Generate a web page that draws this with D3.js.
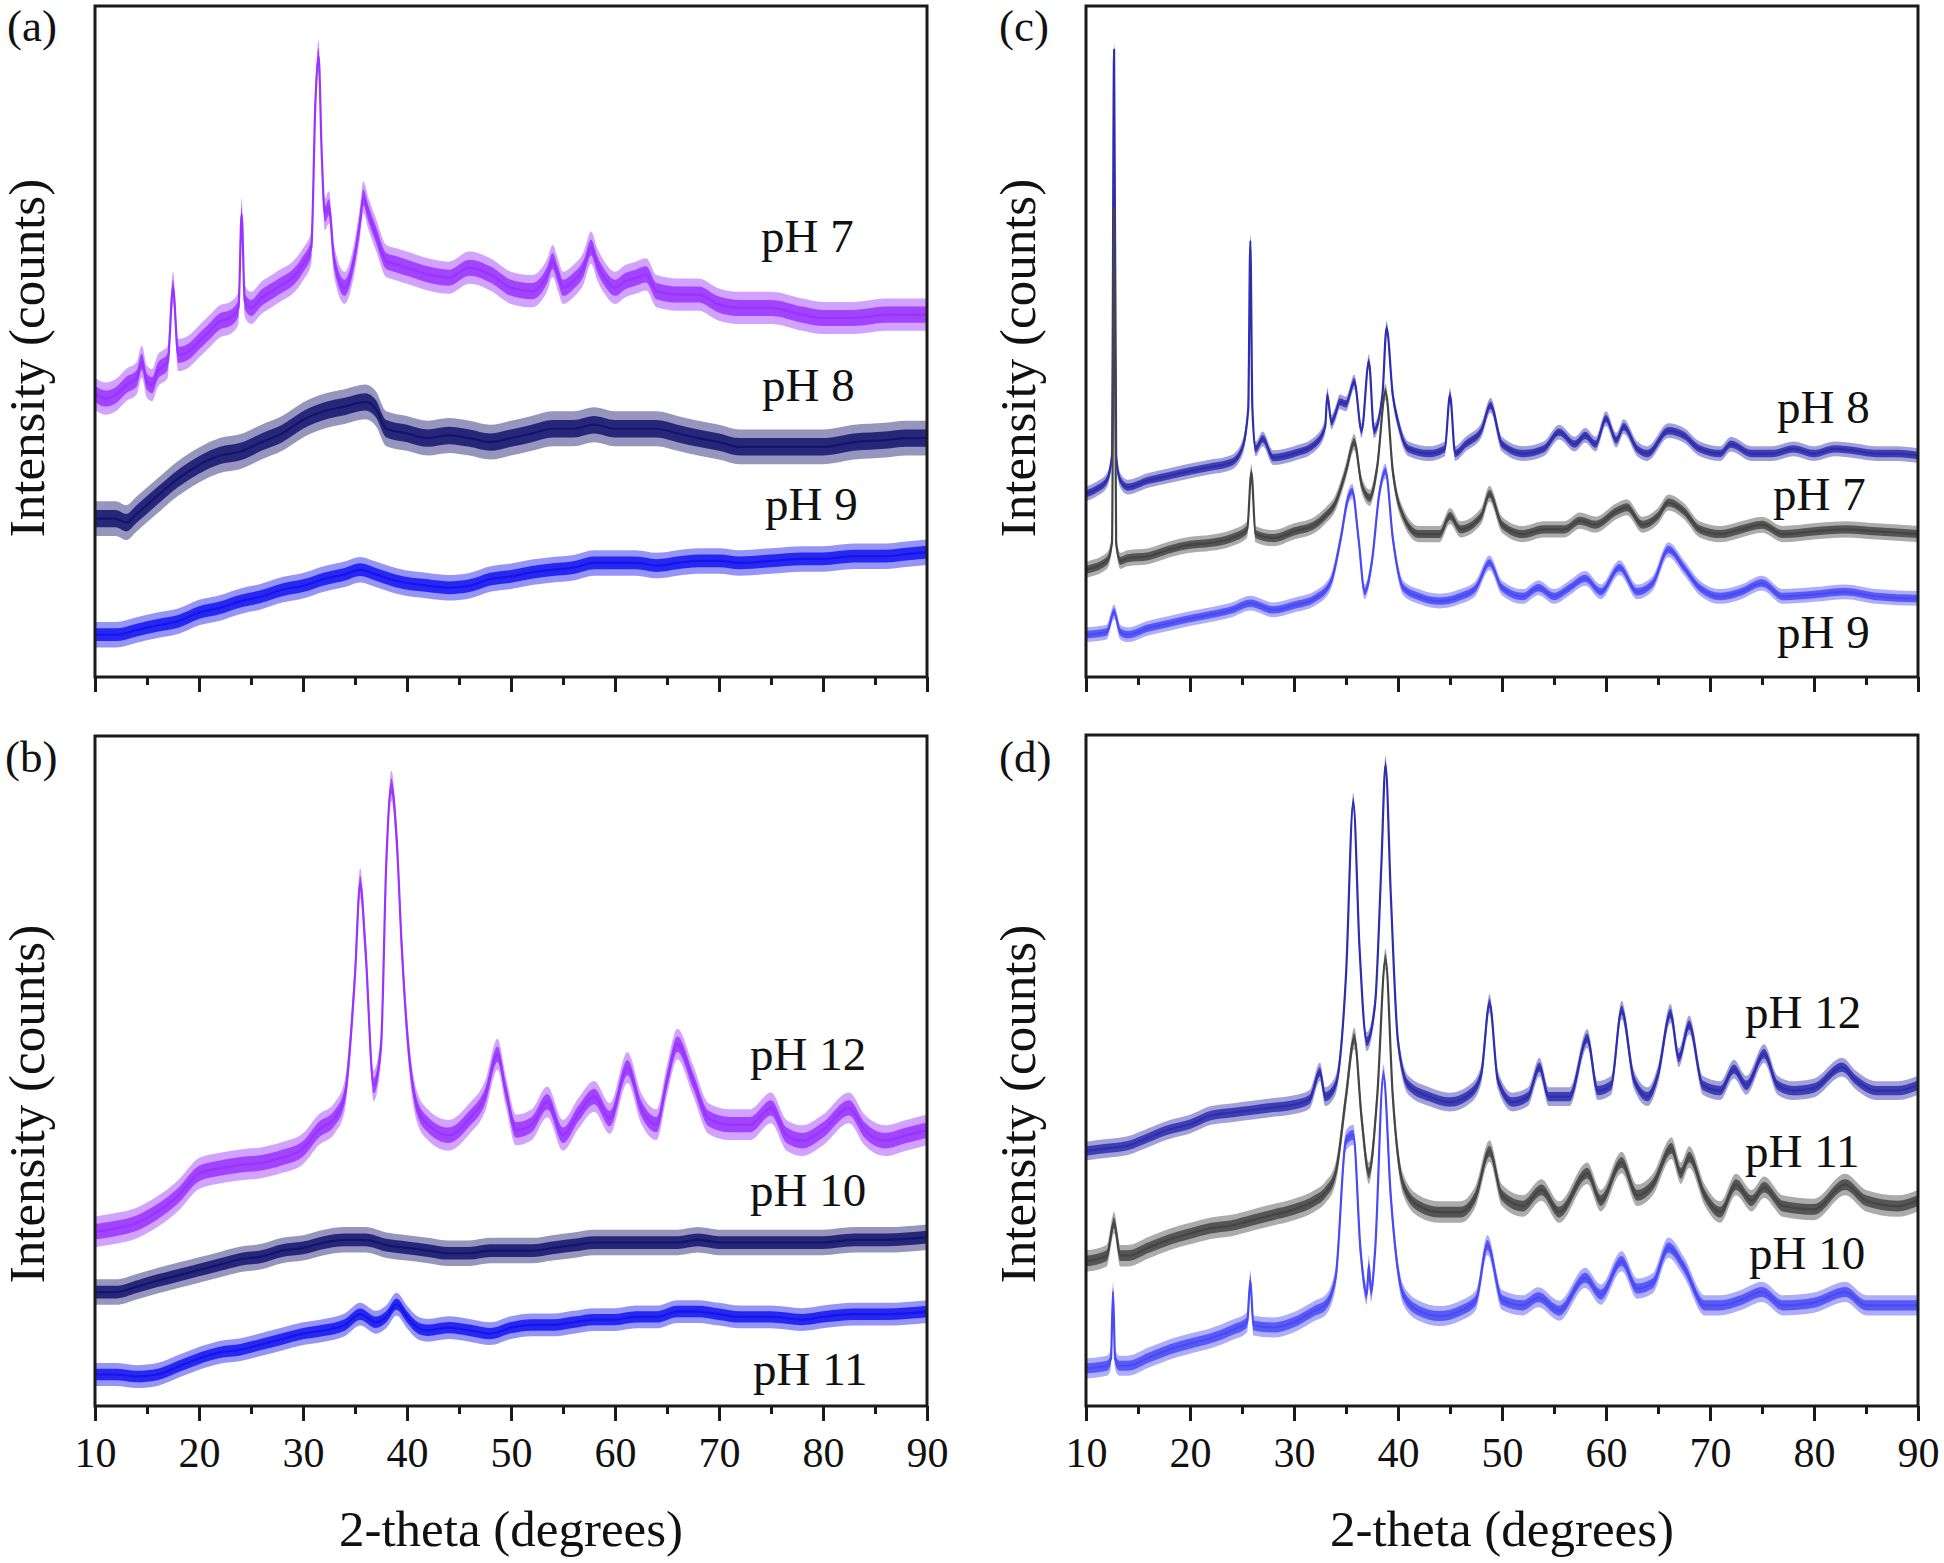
<!DOCTYPE html>
<html><head><meta charset="utf-8">
<script src="https://cdn.jsdelivr.net/npm/d3@7"></script>
<style>body{margin:0;background:#fff}</style>
</head><body>
<svg id="chart" width="1944" height="1563"></svg>
<script>
// ---------- tick labels / text ----------
const xMajorTicks = [10,20,30,40,50,60,70,80,90];
const xMinorTicks = [15,25,35,45,55,65,75,85];
const panelLetters = ["(a)","(b)","(c)","(d)"];
const xTitle = "2-theta (degrees)";
const yTitle = "Intensity (counts)";

// ---------- series names ----------
const namesA = ["pH 7","pH 8","pH 9"];
const namesB = ["pH 12","pH 10","pH 11"];
const namesC = ["pH 8","pH 7","pH 9"];
const namesD = ["pH 12","pH 11","pH 10"];

// ---------- series values: [2-theta, intensity (a.u., 0-100 of frame)] ----------
const a_pH7 = [[10,42.2],[11,41.5],[12,42],[13,43.5],[14,44.5],[14.5,47],[15,44],[15.5,43.5],[16,45.5],[17,47],[17.5,58],[18,48],[19,48.5],[20,50],[21,51.5],[22,53],[23,53.5],[23.8,55],[24.1,69],[24.4,56],[25,55],[26,56.5],[27,57.5],[28,58.5],[29,59.5],[30,61.5],[30.8,64],[31.2,86],[31.5,92.5],[31.8,78],[32.1,69],[32.5,70],[33,62],[34,58],[35,63],[35.5,68],[35.8,71.5],[36.3,69],[37,66],[38,62],[39,61.5],[40,61],[42,60],[44,59.5],[46,61],[48,60],[50,58],[52,57.5],[53.5,60],[54,62],[54.5,60],[55,58],[56,59],[57,61],[57.7,64],[58.3,61.5],[59,59.5],[60,58],[61,59],[62,59.5],[63,60],[64,57.5],[66,57],[68,57],[70,55.5],[72,55],[75,55],[78,54],[80,53.5],[83,53.5],[86,54],[88,54],[90,54]];
const a_pH8 = [[10,23.6],[12,23.6],[13,23],[14,24.3],[16,27],[18,29.6],[20,31.6],[22,33],[24,33.6],[26,35],[28,36.3],[30,38.3],[32,39.6],[34,40.3],[36,41],[37,40],[38,37],[40,36.3],[42,35.6],[44,36],[46,35.6],[48,35],[50,35.6],[52,36.3],[54,37],[56,37],[58,37.6],[60,37],[62,37],[64,37],[66,36.3],[68,35.6],[70,35],[72,34.3],[75,34.3],[78,34.3],[80,34.3],[83,35],[86,35.3],[88,35.6],[90,35.6]];
const a_pH9 = [[10,6.3],[12,6.3],[14,7],[16,7.7],[18,8.3],[20,9.6],[22,10.3],[24,11.3],[26,12],[28,13],[30,13.6],[32,14.6],[34,15.3],[35.5,16],[37,15.3],[39,14.3],[42,13.6],[44,13.3],[46,13.6],[48,14.6],[50,15],[52,15.6],[54,16],[56,16.3],[58,17],[60,17],[62,17],[64,16.6],[66,17],[68,17.3],[70,17.3],[72,17],[75,17.3],[78,17.6],[80,17.6],[83,18],[86,18],[88,18.3],[90,18.6]];

const b_pH12 = [[10,26],[12,26.5],[14,27.3],[16,29],[18,31.4],[20,34.7],[22,35.5],[24,36],[26,36.3],[28,37.1],[30,38.4],[31.5,41.2],[33,42.9],[34,46.2],[35,64.3],[35.5,78],[36,68.4],[36.8,47.8],[37.5,53.6],[38,80.7],[38.5,92.5],[39,84.8],[39.5,68.4],[40,56],[41,44.5],[42,42],[44,40.4],[46,42.9],[47.5,46.2],[48.7,52.5],[49.5,47],[50.5,41.2],[52,42],[53.5,45.4],[55,40.4],[56.5,43.7],[58,46.2],[59.5,42.9],[61.2,50.5],[62.5,44.5],[64,42],[65,48.6],[66,54],[67.5,48.6],[69,42.9],[71,42],[73,42],[75,44.5],[76.5,40.4],[78,39.6],[80,41.2],[82.5,44.5],[84,41.2],[86,39.6],[88,40.4],[90,41.2]];
const b_pH10 = [[10,17],[12,17],[14,17.8],[16,18.7],[18,19.5],[20,20.3],[22,21.1],[24,21.9],[26,22.3],[28,23.2],[30,23.6],[32,24.4],[34,24.8],[36,24.8],[38,24],[40,23.6],[42,23.2],[44,22.8],[46,22.8],[48,23.2],[50,23.2],[52,23.2],[54,23.6],[56,24],[58,24.4],[60,24.4],[62,24.4],[64,24.4],[66,24.4],[68,24.8],[70,24.4],[72,24.4],[75,24.4],[78,24.4],[80,24.4],[83,24.8],[86,24.8],[90,25.2]];
const b_pH11 = [[10,4.7],[12,4.7],[14,4.4],[16,4.7],[18,5.9],[20,7.1],[22,8],[24,8.4],[26,9.2],[28,10],[30,10.8],[32,11.3],[34,12.1],[35.5,13.7],[37,12.5],[38,13.3],[39,15.2],[40,13.3],[41,11.7],[42,11.3],[44,11.7],[46,11.3],[48,10.8],[50,11.7],[52,12.1],[54,12.1],[56,12.5],[58,12.9],[60,12.9],[62,13.3],[64,13.3],[66,14.1],[68,14.1],[70,13.7],[72,13.3],[75,13.3],[78,12.9],[80,13.3],[83,13.7],[86,13.7],[90,14.1]];

const c_pH8 = [[10,27.3],[11,28],[12,29.3],[12.5,33],[12.7,93.5],[12.9,33],[13.3,29.3],[14,28.3],[16,29.3],[18,30],[20,30.7],[22,31.3],[24,32],[25,34],[25.6,40],[25.8,65],[26,40],[26.3,34],[27,35.5],[28,32.7],[30,33.3],[32,34.7],[33,37.3],[33.2,42],[33.6,38],[34,39.3],[34.4,41],[35,40.7],[35.8,44],[36.5,36.7],[37.2,47],[37.7,36.7],[38.5,42],[38.9,52],[39.5,42],[40,38],[41,34],[43,33.3],[44.5,34],[45,42],[45.5,33.3],[46.5,34.7],[48,36.7],[48.9,40.5],[50,34.7],[52,33.3],[54,34],[55.5,36.5],[57,34.7],[58,36],[59,34.7],[60,38.5],[61,35.3],[61.7,37.3],[63,34],[64,33.3],[66,36.7],[67.5,36],[69,34],[71,33.3],[72,34.7],[74,33.3],[76,33.3],[78,34],[80,33.3],[82,34],[84,33.7],[86,33.3],[88,33.3],[90,33]];
const c_pH7 = [[10,16],[12,17.3],[12.5,20],[12.7,70],[12.9,20],[13.3,17.3],[14,17.7],[16,18],[18,19],[20,19.7],[22,20],[24,20.7],[25.5,22],[25.9,30.5],[26.3,21.3],[28,20.7],[30,21.7],[32,22.7],[33,24],[34,26],[35,30.7],[35.8,35],[36.5,28.7],[37.3,26.7],[38,31.3],[38.8,42.5],[39.5,30.7],[40.5,24],[42,21.3],[44,21.3],[45,24],[46,22],[48,24],[48.8,27.3],[50,22.7],[52,21.3],[54,22],[56,22],[57.5,23.3],[59,22.7],[61,24.7],[62,25.3],[63.5,22.7],[65,24],[66,26],[67.5,24.7],[69,22],[71,21.3],[73,22],[75,22.7],[77,21.3],[80,21.7],[83,22],[86,21.7],[90,21.3]];
const c_pH9 = [[10,6.3],[12,6.7],[12.7,9.7],[13.3,6.7],[14,6.3],[16,7.3],[18,8],[20,8.7],[22,9.3],[24,10],[25.8,11],[28,10],[30,10.7],[32,11.7],[33.5,14],[34.5,20.7],[35.2,26.7],[35.6,27.7],[36.2,20.7],[36.8,12.7],[37.5,17.3],[38.2,27.3],[38.8,30.7],[39.5,20.7],[40.5,13.3],[42,12],[44,11.3],[46,12],[47.5,13.3],[48.8,17],[50,13.3],[52,12],[53.5,13.3],[55,12],[56.5,13.3],[58,14.7],[59.5,12.7],[61.3,16.3],[63,12.7],[64.5,14],[66,19],[67.5,16.3],[69,13.3],[71,12],[73,12.7],[75,14],[77,12],[80,12.3],[83,12.7],[86,12],[90,11.7]];

const d_pH12 = [[10,38],[12,38.4],[14,38.8],[16,40],[18,41.2],[20,42],[22,43.3],[24,43.7],[26,44.1],[28,44.5],[30,44.9],[31.5,45.7],[32.5,49.8],[33,46.1],[34,47.8],[35,64.2],[35.7,90],[36.3,68.3],[37,54.3],[37.8,60],[38.4,80.6],[38.8,95.5],[39.3,76.5],[40,54.3],[41,47.8],[43,46.1],[45,45.3],[47,46.6],[48,49.4],[48.8,60],[49.6,48.6],[51,45.3],[52.5,46.1],[53.6,50.5],[54.5,46.1],[56.5,46.1],[58.2,54.8],[59.2,47],[60.5,47.8],[61.5,59],[62.7,48.6],[64,46.1],[65,49.4],[66.2,58.5],[67,51.9],[68,56.8],[69.3,47.8],[71,47],[72.3,50.2],[73.5,47.8],[75.2,52.5],[76.5,47.8],[78,47],[80,47.4],[82.7,50.5],[84,48.6],[86,47],[88,47],[90,47.8]];
const d_pH11 = [[10,21.6],[12,22.4],[12.7,27.3],[13.3,22.4],[14,22.4],[16,23.6],[18,24.8],[20,25.7],[22,26.5],[24,26.9],[26,27.7],[28,28.5],[30,29.3],[32,30.6],[33,31.8],[34,34.7],[35,46.1],[35.8,54.8],[36.5,42.9],[37.2,34.7],[38,46.1],[38.8,66.6],[39.5,46.1],[40.5,33],[42,29.8],[44,28.9],[46,28.9],[47.5,31.4],[48.8,38],[50,31.4],[52,29.8],[53.8,32.2],[55.5,28.9],[58.2,34.7],[59.5,30.6],[61.5,36.3],[63,31.4],[64.5,33],[66.3,38.4],[67.2,34.7],[68,37.1],[69.5,31.4],[71,28.9],[72.5,33],[74,30.6],[75.2,32.6],[77,29.8],[80,29.3],[83,33],[85,30.6],[88,29.8],[90,30.6]];
const d_pH10 = [[10,5.6],[12,6],[12.4,7],[12.6,17],[12.8,7],[13.2,6],[14,6],[16,7.2],[18,8.4],[20,9.3],[22,10.1],[24,11.3],[25.5,12.5],[25.8,18.7],[26.1,12],[28,11.7],[30,12.5],[32,14.2],[33,15],[34,19.1],[35,39.6],[35.7,40.4],[36.4,23.2],[37,16.6],[37.2,21],[37.4,17],[37.8,23.2],[38.6,49.4],[39.3,31.4],[40.5,16.6],[42,14.2],[44,13.4],[46,14.2],[47.5,15.8],[48.6,24],[50,15.8],[52,15],[53.5,16.2],[55.5,14.2],[58,19.1],[59.5,16.6],[61.5,21.6],[63,17.5],[64.5,18.3],[66,23.6],[67.5,20.7],[69.5,15],[71,15],[73,15.8],[75,17],[77,15],[80,15.4],[83,17],[85,15],[88,15],[90,15]];

// ---------- series colours / noise half-width (a.u.) ----------
const colorsA = ["#9933ff","#14146e","#1414f0"];
const colorsB = ["#9933ff","#14146e","#1414f0"];
const colorsC = ["#2e2eae","#454545","#4a4af5"];
const colorsD = ["#2e2eae","#454545","#4a4af5"];
const noiseA = [2.4,2.6,1.9];
const noiseB = [2.3,1.9,1.7];
const noiseC = [1.1,1.2,1.1];
const noiseD = [1.4,1.6,1.5];

// ---------- layout ----------
const FONT = "'Liberation Serif','Times New Roman',serif";
const svg = d3.select("#chart");
svg.append("rect").attr("width",1944).attr("height",1563).attr("fill","#fff");

const panels = [
  {letter:panelLetters[0], x0:95,  x1:927,  y0:6,   y1:677,  labels:false, names:namesA, series:[a_pH7,a_pH8,a_pH9], colors:colorsA, noise:noiseA,
   labelPos:[[761,252],[762,401],[765,520]], letterPos:[7,41], yTitleY:358},
  {letter:panelLetters[1], x0:95,  x1:927,  y0:736, y1:1406, labels:true, names:namesB, series:[b_pH12,b_pH10,b_pH11], colors:colorsB, noise:noiseB,
   labelPos:[[750,1070],[750,1206],[753,1385]], letterPos:[5,772], yTitleY:1104},
  {letter:panelLetters[2], x0:1086, x1:1918, y0:6,   y1:677,  labels:false, names:namesC, series:[c_pH8,c_pH7,c_pH9], colors:colorsC, noise:noiseC,
   labelPos:[[1777,423],[1773,510],[1777,648]], letterPos:[999,41], yTitleY:358},
  {letter:panelLetters[3], x0:1086, x1:1918, y0:735, y1:1406, labels:true, names:namesD, series:[d_pH12,d_pH11,d_pH10], colors:colorsD, noise:noiseD,
   labelPos:[[1745,1028],[1745,1167],[1749,1269]], letterPos:[999,772], yTitleY:1104}
];

panels.forEach(p => {
  const x = d3.scaleLinear().domain([10,90]).range([p.x0,p.x1]);
  const y = d3.scaleLinear().domain([0,100]).range([p.y1,p.y0]);
  const g = svg.append("g");

  // traces: fuzzy outer band, dense inner band, thin centre line
  p.series.forEach((data,i) => {
    const n = p.noise[i];
    const outer = d3.area().x(d=>x(d[0])).y0(d=>y(d[1]-n)).y1(d=>y(d[1]+n)).curve(d3.curveMonotoneX);
    const inner = d3.area().x(d=>x(d[0])).y0(d=>y(d[1]-n*0.5)).y1(d=>y(d[1]+n*0.5)).curve(d3.curveMonotoneX);
    const line = d3.line().x(d=>x(d[0])).y(d=>y(d[1])).curve(d3.curveMonotoneX);
    g.append("path").attr("d",outer(data)).attr("fill",p.colors[i]).attr("fill-opacity",0.45);
    g.append("path").attr("d",inner(data)).attr("fill",p.colors[i]).attr("fill-opacity",0.85);
    g.append("path").attr("d",line(data)).attr("fill","none").attr("stroke",p.colors[i])
      .attr("stroke-width",2.2).attr("stroke-linejoin","round");
  });

  // frame
  g.append("rect").attr("x",p.x0).attr("y",p.y0).attr("width",p.x1-p.x0).attr("height",p.y1-p.y0)
    .attr("fill","none").attr("stroke","#1a1a1a").attr("stroke-width",3);

  // axes
  const major = d3.axisBottom(x).tickValues(xMajorTicks).tickSize(15).tickPadding(16)
    .tickFormat(p.labels ? d3.format("d") : () => "");
  const minor = d3.axisBottom(x).tickValues(xMinorTicks).tickSize(8).tickFormat(() => "");
  const ga = g.append("g").attr("transform",`translate(0,${p.y1})`).call(major);
  const gm = g.append("g").attr("transform",`translate(0,${p.y1})`).call(minor);
  [ga,gm].forEach(a => {
    a.select(".domain").remove();
    a.selectAll(".tick line").attr("stroke","#1a1a1a").attr("stroke-width",3);
  });
  ga.selectAll(".tick text").attr("font-family",FONT).attr("font-size",42).attr("fill","#111");

  // series labels
  p.names.forEach((nm,i) => {
    g.append("text").attr("x",p.labelPos[i][0]).attr("y",p.labelPos[i][1]).text(nm)
      .attr("font-family",FONT).attr("font-size",47).attr("fill","#111");
  });

  // panel letter
  g.append("text").attr("x",p.letterPos[0]).attr("y",p.letterPos[1]).text(p.letter)
    .attr("font-family",FONT).attr("font-size",45).attr("fill","#111");

  // y title
  g.append("text").attr("transform",`translate(${p.x0-51},${p.yTitleY}) rotate(-90)`)
    .attr("text-anchor","middle").text(yTitle)
    .attr("font-family",FONT).attr("font-size",51).attr("fill","#111");

  // x title
  if (p.labels) {
    g.append("text").attr("x",(p.x0+p.x1)/2).attr("y",1546).attr("text-anchor","middle").text(xTitle)
      .attr("font-family",FONT).attr("font-size",51).attr("fill","#111");
  }
});
</script>
</body></html>
